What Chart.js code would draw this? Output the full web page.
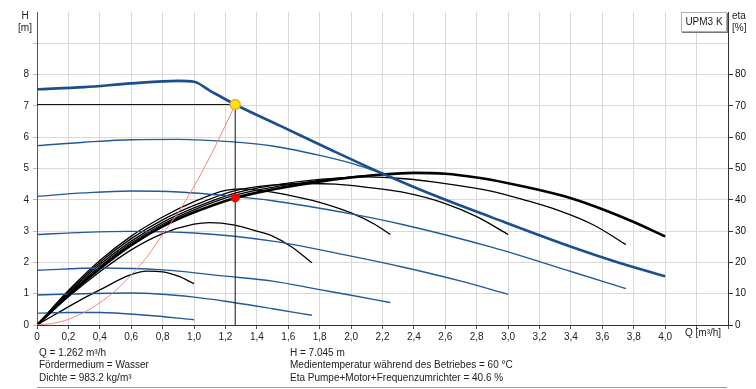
<!DOCTYPE html>
<html><head><meta charset="utf-8">
<script src="https://cdn.jsdelivr.net/npm/chart.js@4.4.1/dist/chart.umd.min.js"></script>
<style>
body{margin:0;background:#fff;}
#wrap{position:relative;width:756px;height:389px;overflow:hidden;font-family:"Liberation Sans",Arial,sans-serif;color:#222;}
canvas{position:absolute;left:0;top:0;}
.t{position:absolute;font-size:10px;line-height:12.7px;white-space:nowrap;color:#222;}
</style></head><body>
<div id="wrap">
<canvas id="c" width="756" height="389"></canvas>
<div class="t" style="left:13px;top:9.5px;width:24px;text-align:center">H<br>[m]</div>
<div class="t" style="left:732px;top:9.5px;">eta<br>[%]</div>
<div class="t" style="left:681px;top:12px;width:44px;height:18px;line-height:18px;text-align:center;border:1px solid #b0b0b0;box-shadow:1px 1px 0 #777;background:#fff;">UPM3 K</div>
<div class="t" style="left:685px;top:327px;">Q [m³/h]</div>
<div class="t" style="left:39px;top:346.5px;">Q = 1.262 m³/h<br>Fördermedium = Wasser<br>Dichte = 983.2 kg/m³</div>
<div class="t" style="left:290px;top:346.5px;">H = 7.045 m<br>Medientemperatur während des Betriebes = 60 °C<br>Eta Pumpe+Motor+Frequenzumrichter = 40.6 %</div>
<div style="position:absolute;left:37px;top:387px;width:690px;height:1px;background:#9a9a9a;"></div>
</div>
<script>
// ---- data (Q in m³/h, H in m, eta in %) ----
const opQ = 1.262, opH = 7.045, opEta = 40.6;

const maxQ = [0,0.3,0.6,0.9,1.0,1.1,1.262,1.55,1.87,2.2,2.5,2.9,3.4,3.7,4.0];
const maxH = [7.53,7.6,7.72,7.8,7.77,7.49,7.045,6.36,5.6,4.84,4.2,3.43,2.5,2.0,1.56];

const h1Q = [0,0.3,0.6,0.9,1.25,1.5,1.8,2.0,2.2];
const h1H = [5.73,5.84,5.92,5.93,5.85,5.72,5.42,5.17,4.84];
const h2Q = [0,0.3,0.6,0.9,1.25,1.5,2.0,2.32,2.9,3.4,3.75];
const h2H = [4.11,4.22,4.28,4.25,4.11,3.97,3.55,3.22,2.48,1.71,1.16];
const h3Q = [0,0.3,0.6,1.0,1.5,2.0,2.32,2.7,3.0];
const h3H = [2.89,2.96,2.99,2.94,2.68,2.2,1.86,1.4,0.98];
const h4Q = [0,0.4,0.8,1.2,1.5,1.8,2.0,2.25];
const h4H = [1.75,1.82,1.76,1.56,1.4,1.13,0.95,0.72];
const h5Q = [0,0.3,0.6,1.0,1.25,1.5,1.75];
const h5H = [0.96,1.0,1.02,0.89,0.72,0.52,0.31];
const h6Q = [0,0.2,0.4,0.7,1.0];
const h6H = [0.38,0.4,0.4,0.31,0.17];

const emQ = [0,0.2,0.4,0.6,0.8,1.0,1.262,1.5,1.8,2.0,2.2,2.4,2.6,2.8,3.0,3.2,3.4,3.6,3.8,4.0];
const emE = [0,9.5,18,25.5,31.5,36,40.6,43.3,45.8,47.1,48.1,48.6,48.3,47.1,45.3,43.1,40.5,37,32.9,28.3];
const e1Q = [0,0.2,0.4,0.6,0.8,1.0,1.25,1.5,1.8,2.0,2.2];
const e1E = [0,9.8,18.7,26.2,32.2,36.8,41.3,44,46.2,47.3,48.1];
const e2Q = [0,0.2,0.4,0.6,0.8,1.0,1.25,1.5,1.8,2.1,2.32,2.6,2.89,3.1,3.32,3.55,3.75];
const e2E = [0,10.2,19.3,26.8,32.8,37.4,42,44.6,46.5,47.3,46.8,45.2,42.8,40,36.6,31.8,25.7];
const e3Q = [0,0.2,0.4,0.6,0.8,1.0,1.25,1.5,1.7,1.9,2.1,2.32,2.6,2.8,3.0];
const e3E = [0,10.6,20,27.6,33.6,38.2,42.8,44.7,45.2,45,44,42.5,38.8,34.6,28.9];
const e4Q = [0,0.2,0.4,0.6,0.8,1.0,1.2,1.3,1.42,1.63,1.8,2.0,2.15,2.25];
const e4E = [0,11,20.6,28.4,34.5,39.4,43,43.5,43,41.2,39.2,35.8,32.2,28.9];
const e5Q = [0,0.2,0.4,0.6,0.8,1.0,1.1,1.25,1.4,1.5,1.62,1.75];
const e5E = [0,9,17,24,29.2,32.2,32.7,32,30,28.4,25,19.9];
const e6Q = [0,0.27,0.4,0.59,0.7,0.8,0.9,1.0];
const e6E = [0,7.8,11.2,15.9,17.2,17,15.6,13.2];

const sysQ = [0,0.1,0.2,0.3,0.4,0.5,0.6,0.7,0.8,0.9,1.0,1.1,1.2,1.262];
const sysH = [0,0.05,0.18,0.4,0.71,1.1,1.6,2.17,2.9,3.6,4.43,5.36,6.38,7.045];

const xTicksMax = 4.0;
const yTicksMax = 8;
const y2TicksMax = 80;

// ---- build ----
const pts = (qs, vs) => qs.map((q, i) => ({x: q, y: vs[i]}));
const BLUE = '#1b4f8c', BLUE_T = '#22599a';
function line(data, color, width, axis) {
  return {data, borderColor: color, borderWidth: width, yAxisID: axis, pointRadius: 0,
          fill: false, cubicInterpolationMode: 'monotone', backgroundColor: color};
}
const datasets = [
  {data: [{x: opQ, y: opH}], yAxisID: 'y', showLine: false, pointRadius: 5, pointBackgroundColor: '#ffe800', pointBorderColor: '#f3a33a', pointBorderWidth: 1.5},
  {data: [{x: opQ, y: opEta}], yAxisID: 'y2', showLine: false, pointRadius: 4.5, pointBackgroundColor: '#ff0000', pointBorderColor: '#ff0000', pointBorderWidth: 0},
  Object.assign(line([{x: 0, y: opH}, {x: opQ, y: opH}], '#111', 1, 'y'), {cubicInterpolationMode: 'default', tension: 0}),
  Object.assign(line([{x: opQ, y: 0}, {x: opQ, y: opH}], '#111', 1, 'y'), {cubicInterpolationMode: 'default', tension: 0}),
  line(pts(sysQ, sysH), '#ff8080', 1, 'y'),
  line(pts(maxQ, maxH), BLUE, 2.6, 'y'),
  line(pts(emQ, emE), '#000', 2.6, 'y2'),
  line(pts(h1Q, h1H), BLUE_T, 1.4, 'y'),
  line(pts(h2Q, h2H), BLUE_T, 1.4, 'y'),
  line(pts(h3Q, h3H), BLUE_T, 1.4, 'y'),
  line(pts(h4Q, h4H), BLUE_T, 1.4, 'y'),
  line(pts(h5Q, h5H), BLUE_T, 1.4, 'y'),
  line(pts(h6Q, h6H), BLUE_T, 1.4, 'y'),
  line(pts(e1Q, e1E), '#000', 1.3, 'y2'),
  line(pts(e2Q, e2E), '#000', 1.3, 'y2'),
  line(pts(e3Q, e3E), '#000', 1.3, 'y2'),
  line(pts(e4Q, e4E), '#000', 1.3, 'y2'),
  line(pts(e5Q, e5E), '#000', 1.3, 'y2'),
  line(pts(e6Q, e6E), '#000', 1.3, 'y2'),
];

Chart.defaults.font.family = '"Liberation Sans", Arial, sans-serif';
Chart.defaults.font.size = 10;
Chart.defaults.color = '#222';

new Chart(document.getElementById('c'), {
  type: 'line',
  data: {datasets},
  options: {
    responsive: false, animation: false, devicePixelRatio: 1,
    layout: {padding: {left: 0, right: 0, top: 12, bottom: 44}},
    plugins: {legend: {display: false}, tooltip: {enabled: false}},
    scales: {
      x: {
        type: 'linear', position: 'bottom', min: 0, max: 4.4,
        afterFit: s => { s.height = 20; },
        ticks: {stepSize: 0.2, autoSkip: false, maxRotation: 0, padding: 2,
          callback: v => v > xTicksMax + 1e-6 ? '' : (Math.abs(v) < 1e-9 ? '0' : v.toFixed(1).replace('.', ','))},
        grid: {color: '#d9d9d9', lineWidth: 1, drawTicks: true, tickLength: 4, tickColor: '#555'},
        border: {color: '#333', width: 1}
      },
      y: {
        type: 'linear', position: 'left', min: 0, max: 10,
        afterFit: s => { s.width = 37; },
        ticks: {stepSize: 1, padding: 4, callback: v => v <= yTicksMax ? String(v) : ''},
        grid: {lineWidth: 1, drawTicks: true, tickLength: 4,
          color: c => (c.tick && c.tick.value >= 10) ? 'rgba(0,0,0,0)' : '#d9d9d9',
          tickColor: c => (c.tick && c.tick.value >= 10) ? 'rgba(0,0,0,0)' : '#bbb'},
        border: {color: '#555', width: 1}
      },
      y2: {
        type: 'linear', position: 'right', min: 0, max: 100,
        afterFit: s => { s.width = 28; },
        ticks: {stepSize: 10, padding: 2, color: '#111', callback: v => v <= y2TicksMax ? String(v) : ''},
        grid: {drawOnChartArea: false, drawTicks: true, tickLength: 5,
          tickColor: c => (c.tick && c.tick.value <= y2TicksMax) ? '#333' : 'rgba(0,0,0,0)'},
        border: {color: '#333', width: 1}
      }
    }
  }
});
</script>
</body></html>
